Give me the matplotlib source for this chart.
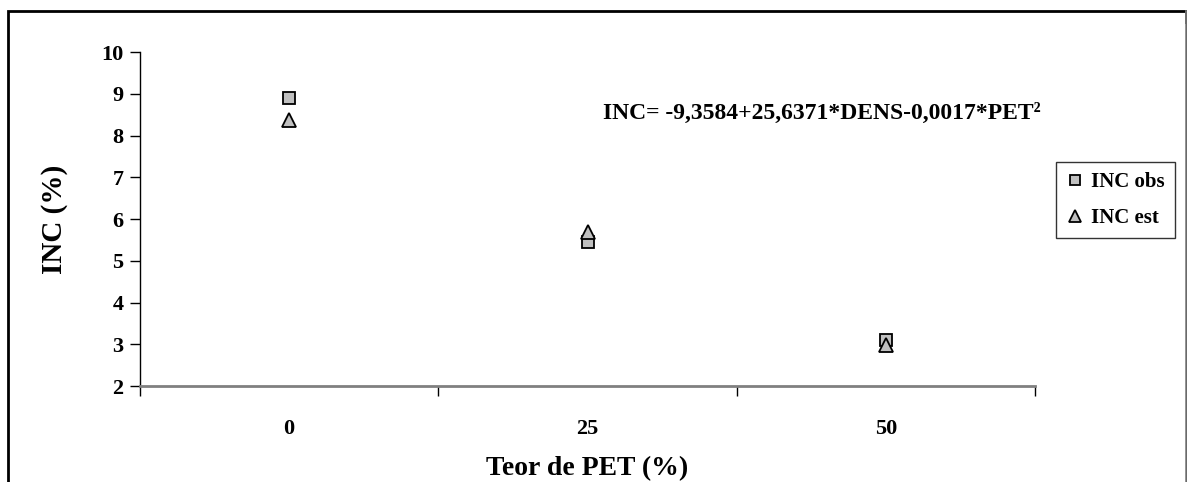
import numpy as np
import matplotlib
matplotlib.use("Agg")
import matplotlib.pyplot as plt
from matplotlib.patches import Rectangle

plt.rcParams['font.family'] = ['Liberation Serif', 'DejaVu Serif']
plt.rcParams['font.weight'] = 'bold'

# data
categories = ['0', '25', '50']
inc_obs = [8.9, 5.45, 3.1]
inc_est = [8.37, 5.7, 2.98]
equation = 'INC= -9,3584+25,6371*DENS-0,0017*PET\u00b2'

fig = plt.figure(figsize=(11.87, 4.82), dpi=100)
ax = fig.add_axes([140 / 1187, 1 - 386 / 482, 895 / 1187, 334 / 482])

x = np.arange(len(categories))
ax.plot(x, inc_obs, linestyle='none', marker='s', markersize=8,
        markerfacecolor='#c0c0c0', markeredgecolor='black', markeredgewidth=1.3,
        label='INC obs')
ax.plot(x, inc_est, linestyle='none', marker='^', markersize=9.5,
        markerfacecolor='#c0c0c0', markeredgecolor='black', markeredgewidth=1.3,
        label='INC est')

ax.set_xlim(-0.5, len(categories) - 0.5)
ax.set_ylim(2, 10)
ax.set_yticks(range(2, 11))
ax.set_xticks(np.arange(len(categories) + 1) - 0.5)
ax.set_xticklabels([])
ax.set_xticks(x, minor=True)
ax.set_xticklabels(categories, minor=True)
ax.tick_params(axis='x', which='minor', length=0, pad=24, labelsize=16)
ax.tick_params(axis='x', which='major', length=7, width=1, direction='out')
ax.tick_params(axis='y', length=7, width=1, direction='out', labelsize=16, pad=5)

for lab in ax.get_yticklabels() + ax.get_xticklabels(minor=True):
    lab.set_fontweight('bold')

ax.spines['top'].set_visible(False)
ax.spines['right'].set_visible(False)
ax.spines['bottom'].set_color('#808080')
ax.spines['bottom'].set_linewidth(2)
ax.spines['left'].set_linewidth(1)

ax.set_ylabel('INC (%)', fontsize=21, fontweight='bold', labelpad=24)
ax.set_xlabel('Teor de PET (%)', fontsize=20, fontweight='bold', labelpad=12)

ax.text(603 / 1187, 1 - 113 / 482, equation, transform=fig.transFigure,
        fontsize=17, fontweight='bold', va='center', ha='left')

leg = ax.legend(loc='center left', bbox_to_anchor=(1056 / 1187, 1 - 200 / 482),
                bbox_transform=fig.transFigure, frameon=True, fancybox=False,
                prop={'size': 15, 'weight': 'bold'}, handlelength=0.8,
                handletextpad=0.4, borderpad=0.5, labelspacing=0.75,
                borderaxespad=0, markerscale=0.85)
leg.get_frame().set_edgecolor('black')
leg.get_frame().set_linewidth(1)

# outer chart frame
fig.patches.append(Rectangle((8 / 1187, -0.05), 1178 / 1187, 1 - 11 / 482 + 0.05,
                             transform=fig.transFigure, fill=False,
                             edgecolor='black', linewidth=2, zorder=0))
fig.patches.append(Rectangle((1185 / 1187, -0.05), 1 / 1187, 1,
                             transform=fig.transFigure, fill=True,
                             facecolor='white', edgecolor='none', zorder=1))
fig.lines.append(plt.Line2D([1186 / 1187, 1186 / 1187], [0, 1 - 11 / 482],
                            transform=fig.transFigure, color='#808080', linewidth=1.2))

fig.savefig('out.png', dpi=100)
